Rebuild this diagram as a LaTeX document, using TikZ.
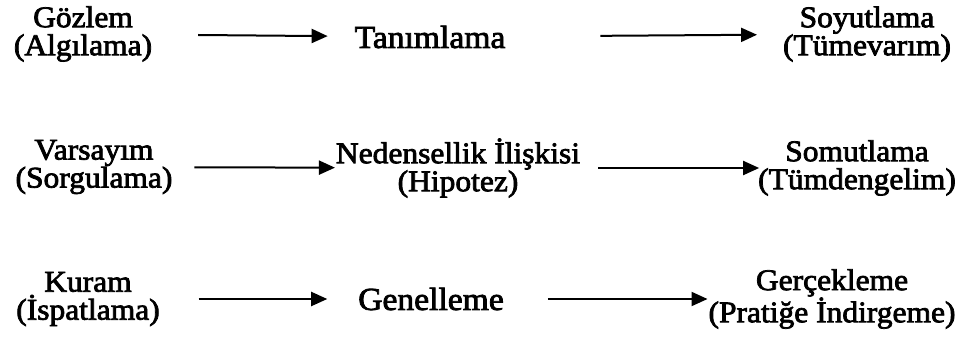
\documentclass[tikz,border=0pt]{standalone}
\usepackage{fontspec}
\setmainfont{Liberation Serif}[FakeBold=2.5,FakeStretch=1.05]
\usetikzlibrary{arrows.meta}

\begin{document}
\begin{tikzpicture}[x=1pt,y=-1pt,-{Triangle[length=16pt,width=14pt]},line width=2pt]
			\tikzstyle{step2} = [align=center,inner sep=0pt,font=\fontsize{30}{28}\selectfont]
			\tikzstyle{big} = [inner sep=0pt,font=\fontsize{32}{32}\selectfont]
			\useasboundingbox (0,0) rectangle (963,340);
			
			\node[step2] (goz) at (83,34) {Gözlem\\(Algılama)};
			\node[big] (tan) at (430,37) {Tanımlama};
			\node[step2] (soy) at (867,34) {Soyutlama\\(Tümevarım)};
			
			\node[step2] (var) at (94,167) {Varsayım\\(Sorgulama)};
			\node[step2] (ned) at (458,168) {Nedensellik İlişkisi\\(Hipotez)};
			\node[step2] (som) at (857,168) {Somutlama\\(Tümdengelim)};
			
			\node[step2] (kur) at (88,299) {Kuram\\(İspatlama)};
			\node[big] (gen) at (431,299) {Genelleme};
			\node[step2] (ger) at (832,299) {Gerçekleme\\(Pratiğe İndirgeme)};
			
			\path (goz) edge[shorten <=45pt,shorten >=26pt] (tan);
			\path (tan) edge[shorten <=94pt,shorten >=25pt] (soy);
			\path (var) edge[shorten <=21pt,shorten >=0pt] (ned);
			\path (ned) edge[shorten <=17pt,shorten >=-2pt] (som);
			\path (kur) edge[shorten <=38pt,shorten >=30pt] (gen);
			\path (gen) edge[shorten <=43pt,shorten >=0pt] (ger);
		\end{tikzpicture}
\end{document}
